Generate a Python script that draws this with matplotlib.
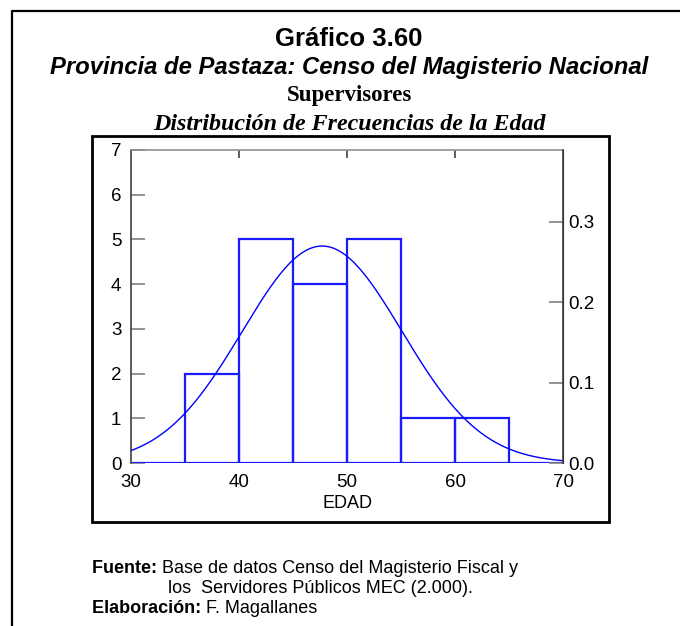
import numpy as np
import matplotlib
matplotlib.use("Agg")
import matplotlib.pyplot as plt
from matplotlib.lines import Line2D

# datos
bordes = [30, 35, 40, 45, 50, 55, 60, 65, 70]
frecuencias = [0, 2, 5, 4, 5, 1, 1, 0]
media_edad = 47.7   # ajuste normal
desv_edad = 7.4
ticks_izq = [0, 1, 2, 3, 4, 5, 6, 7]
ticks_x = [30, 40, 50, 60, 70]
ticks_der = [0.0, 0.1, 0.2, 0.3]

W, H = 680, 626
plt.rcParams['font.family'] = ['Liberation Sans', 'DejaVu Sans']

fig = plt.figure(figsize=(W / 100, H / 100), dpi=100)

def fx(px):
    return px / W

def fy(py):
    return 1 - py / H

# marco exterior (solo izquierda y arriba visibles)
fig.add_artist(Line2D([fx(12), fx(12), fx(W + 5)], [fy(H + 5), fy(11), fy(11)],
                      color='black', lw=1.6))
# marco del grafico
fig.add_artist(plt.Rectangle((fx(92), fy(522)), fx(609) - fx(92), fy(136) - fy(522),
                             fill=False, edgecolor='black', lw=2.0))

# titulos
cx = fx(349)
fig.text(cx, fy(46), 'Gráfico 3.60', ha='center', va='baseline',
         fontsize=18.5, fontweight='bold')
fig.text(cx, fy(74), 'Provincia de Pastaza: Censo del Magisterio Nacional',
         ha='center', va='baseline', fontsize=17.2, fontweight='bold', style='italic')
fig.text(cx, fy(101), 'Supervisores', ha='center', va='baseline',
         fontsize=16.5, fontweight='bold', family='Liberation Serif')
fig.text(cx, fy(130), 'Distribución de Frecuencias de la Edad', ha='center',
         va='baseline', fontsize=17.3, fontweight='bold', style='italic',
         family='Liberation Serif')

# ejes
ax = fig.add_axes([fx(131), fy(463), fx(563) - fx(131), fy(150) - fy(463)])
anchos = np.diff(bordes)
ax.bar(bordes[:-1], frecuencias, width=anchos, align='edge', fill=False,
       edgecolor='#1a1aff', lw=1.6, zorder=2)

xs = np.linspace(bordes[0], bordes[-1], 300)
n = sum(frecuencias)
curva = n * 5 / (desv_edad * np.sqrt(2 * np.pi)) * np.exp(-(xs - media_edad) ** 2 / (2 * desv_edad ** 2))
ax.plot(xs, curva, color='blue', lw=1.0, zorder=3)

ax.set_xlim(30, 70)
ax.set_ylim(0, 7)
ax.set_xticks(ticks_x)
ax.set_yticks(ticks_izq)
ax.tick_params(axis='y', direction='in', length=10, width=1.2, color='#808080',
               labelsize=13.5, pad=7)
ax.tick_params(axis='x', length=0, labelsize=13.5, pad=8)
ax.set_xlabel('EDAD', fontsize=13, labelpad=3)
ax.spines['bottom'].set_visible(False)
ax.spines['left'].set_color('#404040')
ax.spines['top'].set_color('#909090')
ax.spines['left'].set_linewidth(1.2)
ax.spines['top'].set_linewidth(1.2)

# ticks superiores
sec = ax.secondary_xaxis('top')
sec.set_xticks([40, 50, 60])
sec.tick_params(direction='in', length=6, width=1.2, color='#404040', labeltop=False)
sec.spines['top'].set_visible(False)

# eje derecho (proporcion)
ax2 = ax.twinx()
ax2.set_ylim(0, 7 / n)
ax2.set_yticks(ticks_der)
ax2.set_yticklabels([f'{t:.1f}' for t in ticks_der])
ax2.tick_params(axis='y', direction='in', length=10, width=1.2, color='#808080',
                labelsize=13.5, pad=4)
for s in ['top', 'bottom', 'left']:
    ax2.spines[s].set_visible(False)
ax2.spines['right'].set_color('#404040')
ax2.spines['right'].set_linewidth(1.2)

# notas
fig.canvas.draw()
rend = fig.canvas.get_renderer()

def nota(x_px, y_px, negrita, resto):
    t = fig.text(fx(x_px), fy(y_px), negrita + ' ', fontsize=13, fontweight='bold',
                 va='baseline')
    bb = t.get_window_extent(renderer=rend)
    fig.text(bb.x1 / W, fy(y_px), resto, fontsize=13, va='baseline')

nota(92, 573, 'Fuente:', 'Base de datos Censo del Magisterio Fiscal y')
fig.text(fx(168), fy(593), 'los  Servidores Públicos MEC (2.000).',
         fontsize=13, va='baseline')
nota(92, 613, 'Elaboración:', 'F. Magallanes')

fig.savefig('out.png', dpi=100)
